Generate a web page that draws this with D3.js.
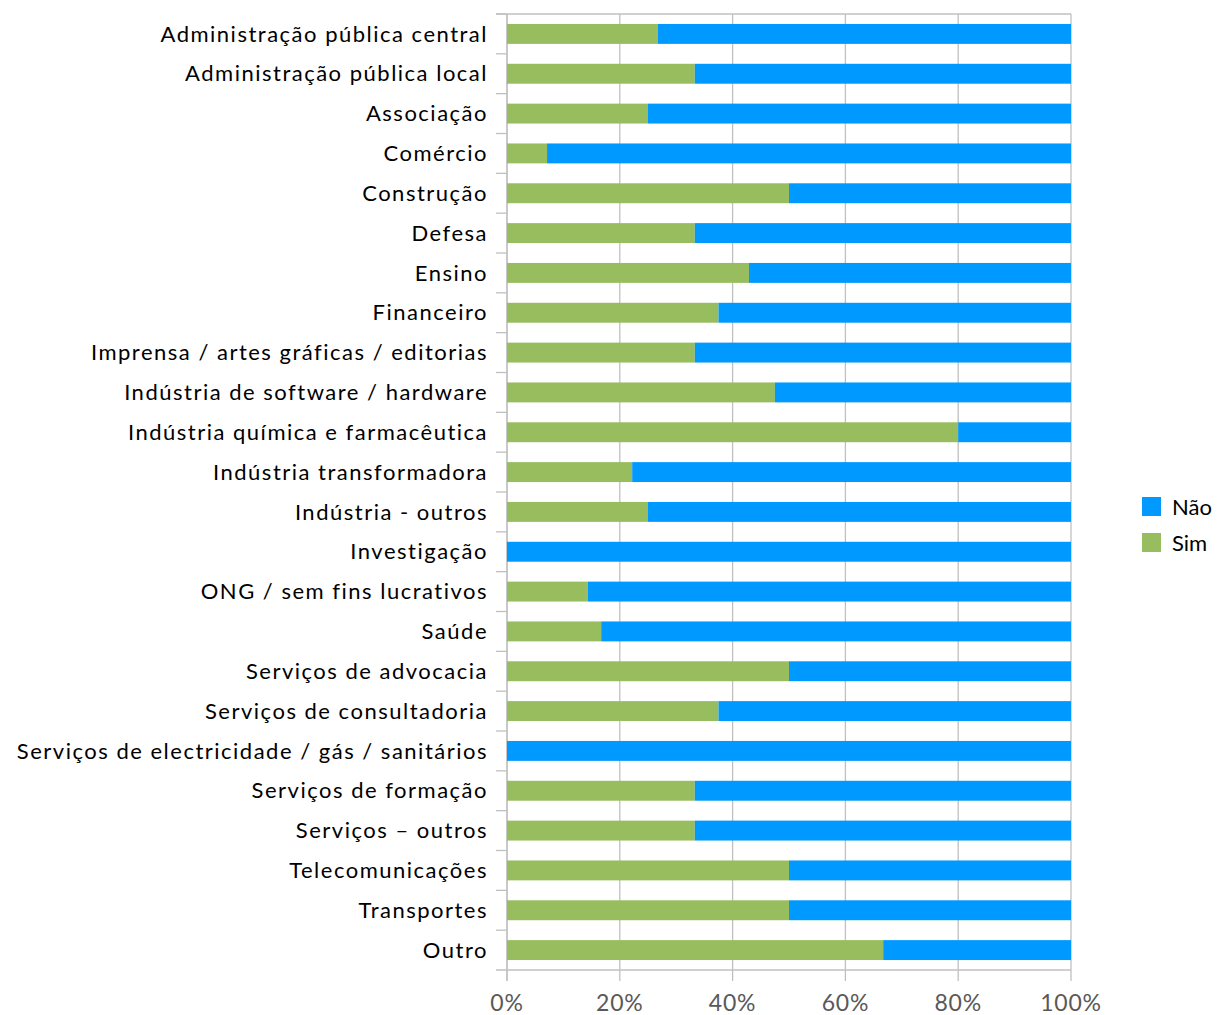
<!DOCTYPE html>
<html><head><meta charset="utf-8">
<script src="https://cdn.jsdelivr.net/npm/d3@7"></script>
<style>body{margin:0;background:#fff}svg{display:block}</style>
</head><body>
<svg id="c" width="1217" height="1015"></svg>
<script>
const categories = ["Administração pública central","Administração pública local","Associação","Comércio","Construção","Defesa","Ensino","Financeiro","Imprensa / artes gráficas / editorias","Indústria de software / hardware","Indústria química e farmacêutica","Indústria transformadora","Indústria - outros","Investigação","ONG / sem fins lucrativos","Saúde","Serviços de advocacia","Serviços de consultadoria","Serviços de electricidade / gás / sanitários","Serviços de formação","Serviços – outros","Telecomunicações","Transportes","Outro"];
const sim = [26.7,33.3,25,7.1,50,33.3,42.9,37.5,33.3,47.5,80,22.2,25,0,14.3,16.7,50,37.5,0,33.3,33.3,50,50,66.7];
const nao = sim.map(v => 100 - v);
const seriesNames = ["Não","Sim"];
const tickValues = [0,20,40,60,80,100];
const colors = {"Sim":"#97BD5E","Não":"#0099FF"};

const svg = d3.select("#c");
const L = 507, R = 1071, T = 14, B = 970;
const x = d3.scaleLinear().domain([0,100]).range([L,R]);
const y = d3.scaleBand().domain(categories).range([T,B]).paddingInner(0.5).paddingOuter(0.25);
const font = "Lato, 'Open Sans', sans-serif";

// gridlines
svg.append("g").selectAll("line").data(tickValues).join("line")
  .attr("x1", d=>x(d)).attr("x2", d=>x(d)).attr("y1", T).attr("y2", B+11)
  .attr("stroke", "#c0c0c0").attr("stroke-width", 1.3);
svg.append("line").attr("x1", L-11).attr("x2", R).attr("y1", T).attr("y2", T).attr("stroke","#c0c0c0").attr("stroke-width",1.3);
svg.append("line").attr("x1", L-11).attr("x2", R).attr("y1", B).attr("y2", B).attr("stroke","#c0c0c0").attr("stroke-width",1.3);
svg.append("line").attr("x1", L).attr("x2", L).attr("y1", T).attr("y2", B+11).attr("stroke","#c0c0c0").attr("stroke-width",1.3);
const step = y.step();
svg.append("g").selectAll("line").data(categories).join("line")
  .attr("x1", L-11).attr("x2", L).attr("y1", d=>y(d)-y.paddingOuter()*step).attr("y2", d=>y(d)-y.paddingOuter()*step)
  .attr("stroke","#c0c0c0").attr("stroke-width",1.3);

// bars
const rows = categories.map((c,i)=>({c, sim:sim[i], nao:nao[i]}));
const g = svg.append("g");
g.selectAll("rect.sim").data(rows).join("rect").attr("class","sim")
  .attr("x", x(0)).attr("y", d=>y(d.c)).attr("height", y.bandwidth())
  .attr("width", d=>x(d.sim)-x(0)).attr("fill", colors["Sim"]);
g.selectAll("rect.nao").data(rows).join("rect").attr("class","nao")
  .attr("x", d=>x(d.sim)).attr("y", d=>y(d.c)).attr("height", y.bandwidth())
  .attr("width", d=>x(d.sim+d.nao)-x(d.sim)).attr("fill", colors["Não"]);

// category labels
svg.append("g").selectAll("text").data(categories).join("text")
  .attr("x", 488).attr("y", d=>y(d)+y.bandwidth()/2).attr("dy","0.35em")
  .attr("text-anchor","end").attr("font-family",font).attr("font-size",22)
  .attr("letter-spacing","1.5px").attr("fill","#000")
  .text(d=>d);

// x tick labels
svg.append("g").selectAll("text").data(tickValues).join("text")
  .attr("x", d=>x(d)).attr("y", 1003).attr("dy","0.35em").attr("text-anchor","middle")
  .attr("font-family",font).attr("font-size",23).attr("letter-spacing","0.8px").attr("fill","#595959")
  .text(d=>d+"%");

// legend
const lg = svg.append("g").selectAll("g").data(seriesNames).join("g")
  .attr("transform",(d,i)=>`translate(1142,${497+i*36})`);
lg.append("rect").attr("width",19).attr("height",19).attr("fill",d=>colors[d]);
lg.append("text").attr("x",30).attr("y",10).attr("dy","0.35em").attr("font-family",font).attr("font-size",22).attr("fill","#000").text(d=>d);
</script>
</body></html>
